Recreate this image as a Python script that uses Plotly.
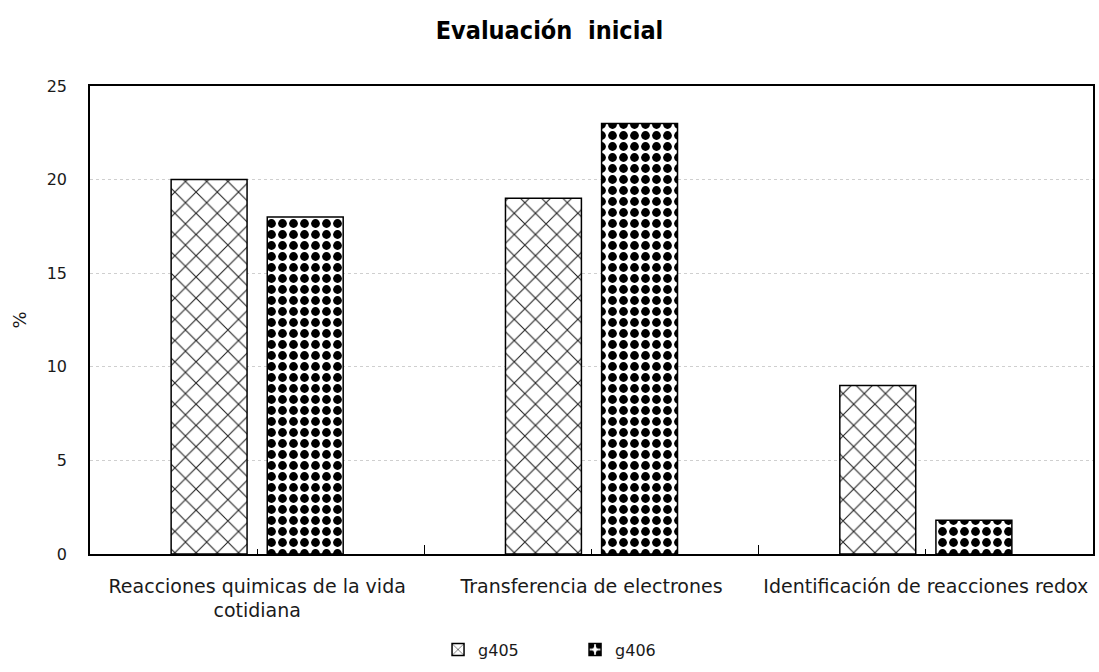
import plotly.graph_objects as go

categories = [
    "Reacciones quimicas de la vida<br>cotidiana",
    "Transferencia de electrones",
    "Identificación de reacciones redox",
]
g405 = [20, 19, 9]
g406 = [18, 23, 1.8]
y_ticks = [0, 5, 10, 15, 20, 25]

label_font = dict(family="DejaVu Sans, Verdana, sans-serif", size=19, color="#1a1a1a")
tick_font = dict(family="DejaVu Sans, Verdana, sans-serif", size=16, color="#1a1a1a")

fig = go.Figure()
fig.add_trace(go.Bar(
    name="g405", x=categories, y=g405,
    marker=dict(color="white", line=dict(color="black", width=1.5),
                pattern=dict(shape="x", size=15, solidity=0.14,
                             fgcolor="#222222", fgopacity=1, bgcolor="white")),
))
fig.add_trace(go.Bar(
    name="g406", x=categories, y=g406,
    marker=dict(color="white", line=dict(color="black", width=1.5),
                pattern=dict(shape=".", size=11, solidity=0.5,
                             fgcolor="black", fgopacity=1, bgcolor="white")),
))
# invisible carrier so the centre-tick axis gets drawn
fig.add_trace(go.Scatter(
    x=list(range(len(categories))), y=[0] * len(categories), xaxis="x2", yaxis="y",
    mode="markers", marker=dict(opacity=0), showlegend=False, hoverinfo="skip",
))

fig.update_layout(
    width=1099, height=672,
    margin=dict(l=90, r=6, t=86, b=117),
    paper_bgcolor="white", plot_bgcolor="white",
    barmode="group", bargap=0.425, bargroupgap=0.21,
    title=dict(text="<b>Evaluación  inicial</b>", x=0.5, xanchor="center",
               y=0.955, yanchor="middle",
               font=dict(family="DejaVu Sans Condensed, DejaVu Sans, sans-serif",
                         size=25, color="black")),
    showlegend=True,
    legend=dict(orientation="h", x=0.347, xanchor="left", y=-0.238, yanchor="bottom",
                font=tick_font, entrywidth=92, entrywidthmode="pixels",
                traceorder="normal"),
    xaxis=dict(
        type="category", showline=True, linecolor="black", linewidth=1.5, mirror=True,
        ticks="inside", tickson="boundaries", ticklen=9, tickcolor="black",
        tickfont=label_font, ticklabelstandoff=14, showgrid=False, automargin=False,
    ),
    # short inside ticks at the centre of each category
    xaxis2=dict(
        overlaying="x", anchor="y", side="bottom", range=[-0.5, len(categories) - 0.5],
        tickvals=list(range(len(categories))), ticks="inside", ticklen=5,
        tickcolor="black", showticklabels=False, showline=False, showgrid=False,
        zeroline=False, automargin=False,
    ),
    yaxis=dict(
        range=[0, 25], tickvals=y_ticks, showline=True, linecolor="black", linewidth=1.5,
        mirror=True, ticks="", showgrid=True, gridcolor="#cfcfcf", griddash="dot",
        gridwidth=1, tickfont=tick_font, ticklabelstandoff=18, zeroline=False,
        automargin=False,
        title=dict(text="%", font=dict(family="DejaVu Sans, sans-serif", size=18,
                                       color="#1a1a1a"), standoff=15),
    ),
)

fig.write_html("out.html")
